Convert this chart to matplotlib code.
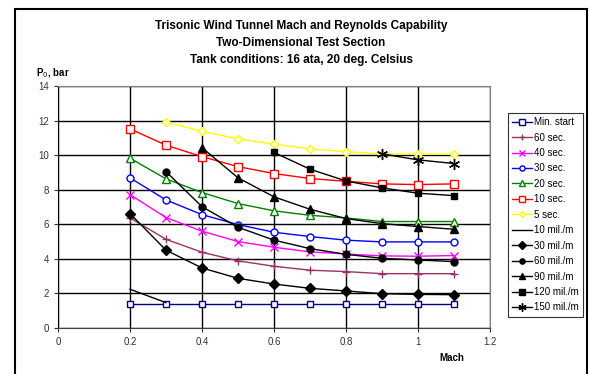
import matplotlib
matplotlib.use("Agg")
import matplotlib.pyplot as plt
from matplotlib.patches import Rectangle
import numpy as np

plt.rcParams['font.family'] = ['Liberation Sans', 'DejaVu Sans']

mach_all = [0.2, 0.3, 0.4, 0.5, 0.6, 0.7, 0.8, 0.9, 1.0, 1.1]

min_start = [1.38, 1.38, 1.38, 1.38, 1.38, 1.38, 1.38, 1.38, 1.38, 1.38]
sec60 = [6.36, 5.12, 4.37, 3.87, 3.56, 3.33, 3.25, 3.13, 3.13, 3.13]
sec40 = [7.71, 6.38, 5.59, 4.99, 4.66, 4.39, 4.27, 4.16, 4.14, 4.18]
sec30 = [8.68, 7.40, 6.55, 5.97, 5.53, 5.28, 5.07, 4.97, 4.97, 4.97]
sec20 = [9.82, 8.62, 7.83, 7.19, 6.77, 6.51, 6.36, 6.15, 6.15, 6.15]
sec10 = [11.52, 10.57, 9.91, 9.33, 8.93, 8.64, 8.48, 8.33, 8.29, 8.33]
mach_5s = [0.3, 0.4, 0.5, 0.6, 0.7, 0.8, 0.9, 1.0, 1.1]
sec5 = [11.92, 11.37, 10.94, 10.63, 10.36, 10.20, 10.07, 10.05, 10.05]

mach_10m = [0.2, 0.3]
mil10 = [2.23, 1.45]
mil30 = [6.61, 4.49, 3.46, 2.86, 2.53, 2.28, 2.13, 1.97, 1.93, 1.91]
mach_60m = [0.3, 0.4, 0.5, 0.6, 0.7, 0.8, 0.9, 1.0, 1.1]
mil60 = [9.04, 7.01, 5.82, 5.07, 4.58, 4.25, 4.02, 3.92, 3.83]
mach_90m = [0.4, 0.5, 0.6, 0.7, 0.8, 0.9, 1.0, 1.1]
mil90 = [10.43, 8.68, 7.58, 6.86, 6.32, 6.03, 5.86, 5.70]
mach_120m = [0.6, 0.7, 0.8, 0.9, 1.0, 1.1]
mil120 = [10.15, 9.18, 8.50, 8.10, 7.79, 7.65]
mach_150m = [0.9, 1.0, 1.1]
mil150 = [10.07, 9.72, 9.51]

title_lines = ["Trisonic Wind Tunnel Mach and Reynolds Capability",
               "Two-Dimensional Test Section",
               "Tank conditions: 16 ata, 20 deg. Celsius"]

fig = plt.figure(figsize=(5.89, 3.74), dpi=100)
ax = fig.add_axes([58/589, 1-327.7/374, (490-58)/589, (327.7-86)/374])

lw = 1.0
series = [
    (mach_all, min_start, "Min. start", dict(color="#000080", marker="s", mfc="white", mec="#000080", ms=5)),
    (mach_all, sec60, "60 sec.", dict(color="#993366", marker="+", mec="#993366", ms=6)),
    (mach_all, sec40, "40 sec.", dict(color="#FF00FF", marker="x", mec="#FF00FF", ms=6)),
    (mach_all, sec30, "30 sec.", dict(color="#0000FF", marker="o", mfc="white", mec="#0000FF", ms=5)),
    (mach_all, sec20, "20 sec.", dict(color="#008000", marker="^", mfc="white", mec="#008000", ms=6)),
    (mach_all, sec10, "10 sec.", dict(color="#FF0000", marker="s", mfc="white", mec="#FF0000", ms=6)),
    (mach_5s, sec5, "5 sec.", dict(color="#FFFF00", marker="D", mfc="white", mec="#FFFF00", ms=4)),
    (mach_10m, mil10, "10 mil./m", dict(color="black")),
    (mach_all, mil30, "30 mil./m", dict(color="black", marker="D", ms=5)),
    (mach_60m, mil60, "60 mil./m", dict(color="black", marker="o", ms=5)),
    (mach_90m, mil90, "90 mil./m", dict(color="black", marker="^", ms=6)),
    (mach_120m, mil120, "120 mil./m", dict(color="black", marker="s", ms=5)),
    (mach_150m, mil150, "150 mil./m", dict(color="black", marker=(6, 2, 0), ms=8, mew=1.0)),
]
for x, y, lab, st in series:
    ax.plot(x, y, label=lab, lw=lw, **st)

ax.set_xlim(0, 1.2)
ax.set_ylim(0, 14)
ax.set_xticks([0, 0.2, 0.4, 0.6, 0.8, 1.0, 1.2])
ax.set_xticklabels(["0", "0.2", "0.4", "0.6", "0.8", "1", "1.2"])
ax.set_yticks(range(0, 15, 2))
ax.grid(True, color="black", lw=1.0)
ax.set_axisbelow(True)
for s in ["top", "right"]:
    ax.spines[s].set_color("#808080")
ax.spines["left"].set_color("black")
ax.spines["bottom"].set_color("#404040")
ax.tick_params(labelsize=7, length=3, direction="out", colors="#333333")

for i, t in enumerate(title_lines):
    fig.text(301/589, 1-(26+17*i)/374, t, ha="center", va="center", fontsize=8.5, fontweight="bold")
fig.text(36/589, 1-73/374, "P$_0$, bar", ha="left", va="center", fontsize=7, fontweight="bold")
fig.text(452/589, 1-358/374, "Mach", ha="center", va="center", fontsize=7, fontweight="bold")

leg = fig.legend(loc="upper left", bbox_to_anchor=(507.7/589, 1-112.7/374), fontsize=7,
                 frameon=True, fancybox=False, edgecolor="black", labelspacing=0.56,
                 handlelength=2.0, handletextpad=0.25, borderpad=0.45, borderaxespad=0,
                 markerscale=0.75)
leg.get_frame().set_linewidth(0.8)

fig.patches.append(Rectangle((14.5/589, -0.1), (587-14.5)/589, 1.1-9/374, transform=fig.transFigure,
                             fill=False, edgecolor="black", lw=1.5))

fig.savefig("out.png", dpi=100)
